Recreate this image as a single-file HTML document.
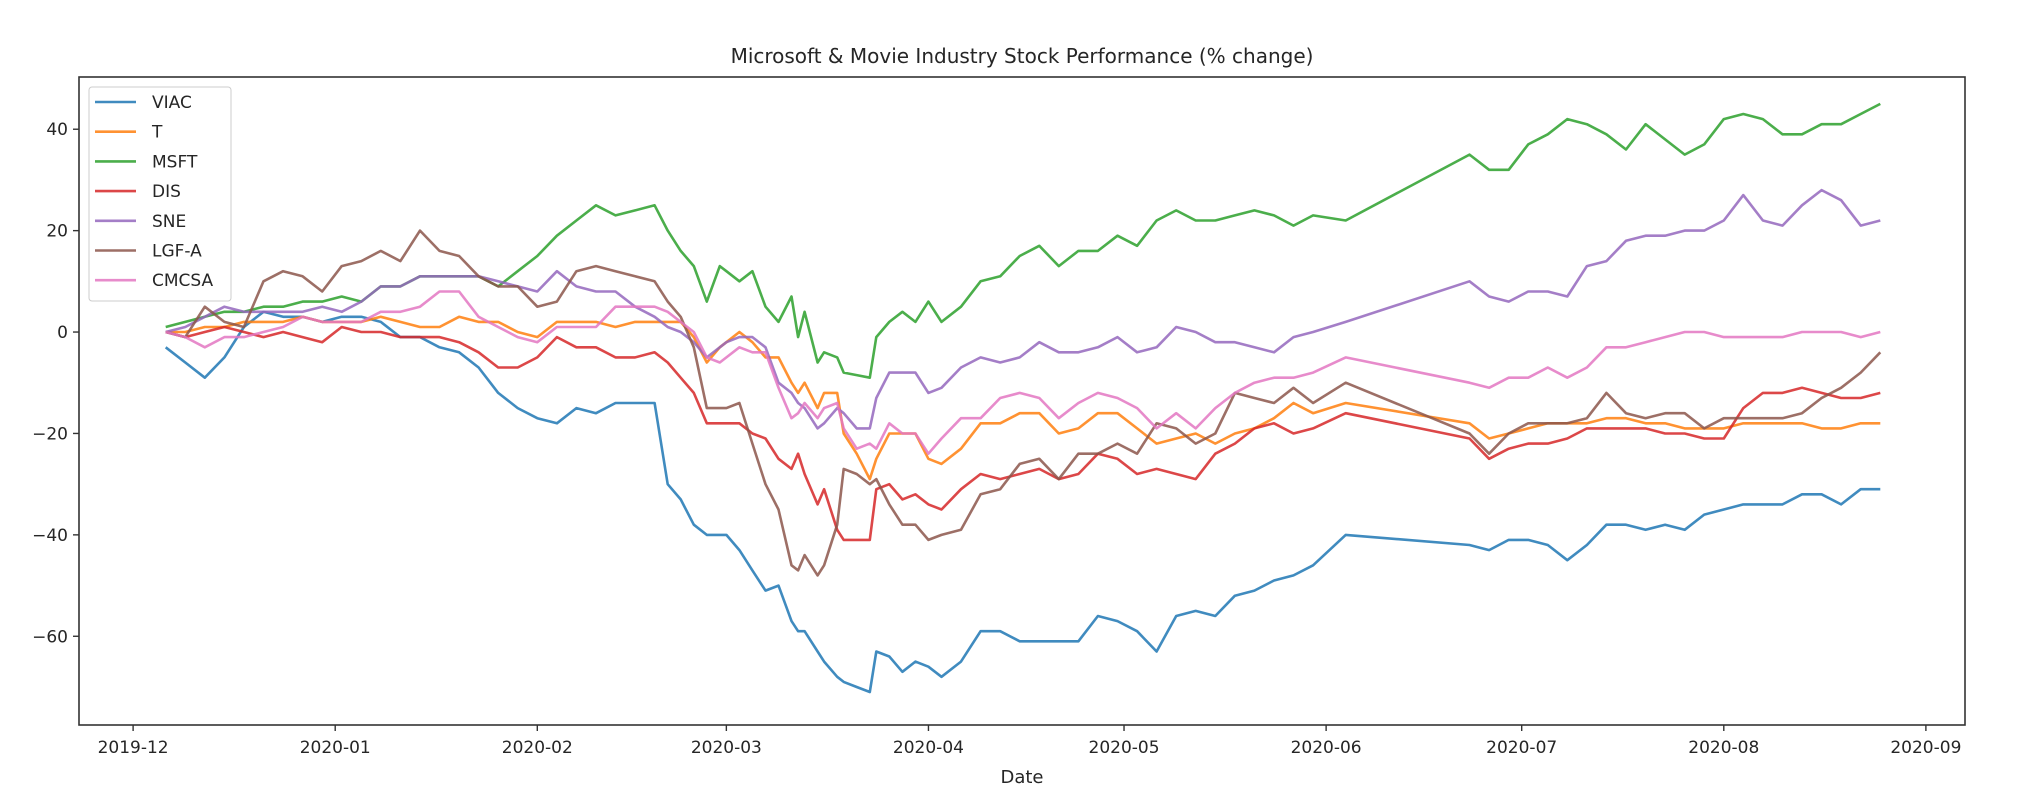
<!DOCTYPE html>
<html><head><meta charset="utf-8"><title>Microsoft & Movie Industry Stock Performance</title>
<style>
html,body{margin:0;padding:0;background:#fff;}
svg text{font-family:"DejaVu Sans","Liberation Sans",sans-serif;fill:#262626;}
</style></head>
<body>
<svg id="chart" width="2028" height="804" viewBox="0 0 2028 804" xmlns="http://www.w3.org/2000/svg">
<rect x="0" y="0" width="2028" height="804" fill="#fff"/>
<text x="1022" y="63" font-size="20" text-anchor="middle">Microsoft &amp; Movie Industry Stock Performance (% change)</text>
<text x="1022" y="783" font-size="18" text-anchor="middle">Date</text>
<g id="yaxis"></g>
<g id="xaxis"></g>
<g id="series"></g>
<rect x="79" y="77" width="1886" height="648" fill="none" stroke="#333" stroke-width="1.6"/>
<g id="legend"></g>
</svg>
<script>
// days since 2019-12-01
const days = [5,8,11,14,17,20,23,26,29,32,35,38,41,44,47,50,53,56,59,62,65,68,71,74,77,
80,82,84,86,88,90,
91,93,95,97,99,101,102,103,105,106,108,109,111,113,114,116,118,120,122,124,
127,130,133,136,139,142,145,148,151,154,157,160,163,166,169,172,175,178,181,
186,
205,208,211,214,217,220,223,226,229,232,235,238,241,244,247,250,253,256,259,262,265,268];
const seriesNames = ["VIAC","T","MSFT","DIS","SNE","LGF-A","CMCSA"];
const viac = [-3,-6,-9,-5,1,4,3,3,2,3,3,2,-1,-1,-3,-4,-7,-12,-15,-17,-18,-15,-16,-14,-14,
-14,-30,-33,-38,-40,-40,
-40,-43,-47,-51,-50,-57,-59,-59,-63,-65,-68,-69,-70,-71,-63,-64,-67,-65,-66,-68,
-65,-59,-59,-61,-61,-61,-61,-56,-57,-59,-63,-56,-55,-56,-52,-51,-49,-48,-46,
-40,
-42,-43,-41,-41,-42,-45,-42,-38,-38,-39,-38,-39,-36,-35,-34,-34,-34,-32,-32,-34,-31,-31];
const att = [0,0,1,1,2,2,2,3,2,2,2,3,2,1,1,3,2,2,0,-1,2,2,2,1,2,
2,2,2,-1,-6,-3,
-2,0,-2,-5,-5,-10,-12,-10,-15,-12,-12,-20,-24,-29,-25,-20,-20,-20,-25,-26,
-23,-18,-18,-16,-16,-20,-19,-16,-16,-19,-22,-21,-20,-22,-20,-19,-17,-14,-16,
-14,
-18,-21,-20,-19,-18,-18,-18,-17,-17,-18,-18,-19,-19,-19,-18,-18,-18,-18,-19,-19,-18,-18];
const msft = [1,2,3,4,4,5,5,6,6,7,6,9,9,11,11,11,11,9,12,15,19,22,25,23,24,
25,20,16,13,6,13,
12,10,12,5,2,7,-1,4,-6,-4,-5,-8,-8.5,-9,-1,2,4,2,6,2,
5,10,11,15,17,13,16,16,19,17,22,24,22,22,23,24,23,21,23,
22,
35,32,32,37,39,42,41,39,36,41,38,35,37,42,43,42,39,39,41,41,43,45];
const dis = [0,-1,0,1,0,-1,0,-1,-2,1,0,0,-1,-1,-1,-2,-4,-7,-7,-5,-1,-3,-3,-5,-5,
-4,-6,-9,-12,-18,-18,
-18,-18,-20,-21,-25,-27,-24,-28,-34,-31,-39,-41,-41,-41,-31,-30,-33,-32,-34,-35,
-31,-28,-29,-28,-27,-29,-28,-24,-25,-28,-27,-28,-29,-24,-22,-19,-18,-20,-19,
-16,
-21,-25,-23,-22,-22,-21,-19,-19,-19,-19,-20,-20,-21,-21,-15,-12,-12,-11,-12,-13,-13,-12];
const sne = [0,1,3,5,4,4,4,4,5,4,6,9,9,11,11,11,11,10,9,8,12,9,8,8,5,
3,1,0,-2,-5,-3,
-2,-1,-1,-3,-10,-12,-14,-15,-19,-18,-15,-16,-19,-19,-13,-8,-8,-8,-12,-11,
-7,-5,-6,-5,-2,-4,-4,-3,-1,-4,-3,1,0,-2,-2,-3,-4,-1,0,
2,
10,7,6,8,8,7,13,14,18,19,19,20,20,22,27,22,21,25,28,26,21,22];
const lgfa = [0,-1,5,2,1,10,12,11,8,13,14,16,14,20,16,15,11,9,9,5,6,12,13,12,11,
10,6,3,-3,-15,-15,
-15,-14,-22,-30,-35,-46,-47,-44,-48,-46,-38,-27,-28,-30,-29,-34,-38,-38,-41,-40,
-39,-32,-31,-26,-25,-29,-24,-24,-22,-24,-18,-19,-22,-20,-12,-13,-14,-11,-14,
-10,
-20,-24,-20,-18,-18,-18,-17,-12,-16,-17,-16,-16,-19,-17,-17,-17,-17,-16,-13,-11,-8,-4];
const cmcsa = [0,-1,-3,-1,-1,0,1,3,2,2,2,4,4,5,8,8,3,1,-1,-2,1,1,1,5,5,
5,4,2,0,-5,-6,
-5,-3,-4,-4,-11,-17,-16,-14,-17,-15,-14,-19,-23,-22,-23,-18,-20,-20,-24,-21,
-17,-17,-13,-12,-13,-17,-14,-12,-13,-15,-19,-16,-19,-15,-12,-10,-9,-9,-8,
-5,
-10,-11,-9,-9,-7,-9,-7,-3,-3,-2,-1,0,0,-1,-1,-1,-1,0,0,0,-1,0];
const yTicks = [40,20,0,-20,-40,-60];
const xTickDays = [0,31,62,91,122,152,183,213,244,275];
const xTickLabels = ["2019-12","2020-01","2020-02","2020-03","2020-04","2020-05","2020-06","2020-07","2020-08","2020-09"];

const colors = ["#1f77b4","#ff7f0e","#2ca02c","#d62728","#9467bd","#8c564b","#e377c2"];
const allSeries = [viac, att, msft, dis, sne, lgfa, cmcsa];
const NS = "http://www.w3.org/2000/svg";
const X0 = 79, X1 = 1965, Y0 = 77, Y1 = 725;
const xMin = -8.3, xMax = 281.0, yMin = -77.5, yMax = 50.3;
function xs(d){ return X0 + (d - xMin) / (xMax - xMin) * (X1 - X0); }
function ys(v){ return Y1 - (v - yMin) / (yMax - yMin) * (Y1 - Y0); }

const yg = document.getElementById('yaxis');
yTicks.forEach(t => {
  const y = ys(t);
  const ln = document.createElementNS(NS,'line');
  ln.setAttribute('x1', X0-6); ln.setAttribute('x2', X0); ln.setAttribute('y1', y); ln.setAttribute('y2', y);
  ln.setAttribute('stroke','#333'); ln.setAttribute('stroke-width','1.4');
  
  
  yg.appendChild(ln);
  const tx = document.createElementNS(NS,'text');
  tx.setAttribute('x', X0-11); tx.setAttribute('y', y+6); tx.setAttribute('font-size','17'); tx.setAttribute('text-anchor','end');
  tx.textContent = t < 0 ? '\u2212' + Math.abs(t) : String(t);
  
  
  yg.appendChild(tx);
});
const xg = document.getElementById('xaxis');
xTickDays.forEach((d,i) => {
  const x = xs(d);
  const ln = document.createElementNS(NS,'line');
  ln.setAttribute('x1', x); ln.setAttribute('x2', x); ln.setAttribute('y1', Y1); ln.setAttribute('y2', Y1+6);
  ln.setAttribute('stroke','#333'); ln.setAttribute('stroke-width','1.4');
  
  
  xg.appendChild(ln);
  const tx = document.createElementNS(NS,'text');
  tx.setAttribute('x', x); tx.setAttribute('y', Y1+28); tx.setAttribute('font-size','17'); tx.setAttribute('text-anchor','middle');
  tx.textContent = xTickLabels[i];
  
  
  xg.appendChild(tx);
});
const sg = document.getElementById('series');
allSeries.forEach((vals, si) => {
  let dstr = '';
  vals.forEach((v,i) => { dstr += (i ? 'L' : 'M') + xs(days[i]).toFixed(1) + ',' + ys(v).toFixed(1); });
  const p = document.createElementNS(NS,'path');
  p.setAttribute('d', dstr); p.setAttribute('fill','none'); p.setAttribute('stroke', colors[si]);
  p.setAttribute('stroke-width','2.6'); p.setAttribute('stroke-opacity','0.85'); p.setAttribute('stroke-linejoin','round');
  
  
  sg.appendChild(p);
});
const lg = document.getElementById('legend');
const box = document.createElementNS(NS,'rect');
box.setAttribute('x', 89); box.setAttribute('y', 87); box.setAttribute('width', 142); box.setAttribute('height', 214);
box.setAttribute('rx', 3); box.setAttribute('fill', '#fff'); box.setAttribute('fill-opacity','0.8'); box.setAttribute('stroke', '#ccc');


lg.appendChild(box);
seriesNames.forEach((n, i) => {
  const y = 102 + i * 29.7;
  const ln = document.createElementNS(NS,'line');
  ln.setAttribute('x1', 95); ln.setAttribute('x2', 136); ln.setAttribute('y1', y); ln.setAttribute('y2', y);
  ln.setAttribute('stroke', colors[i]); ln.setAttribute('stroke-width', '2.6'); ln.setAttribute('stroke-opacity','0.85');
  
  
  lg.appendChild(ln);
  const tx = document.createElementNS(NS,'text');
  tx.setAttribute('x', 152); tx.setAttribute('y', y + 6); tx.setAttribute('font-size', '17');
  tx.textContent = n;
  
  
  lg.appendChild(tx);
});
</script>
</body></html>
